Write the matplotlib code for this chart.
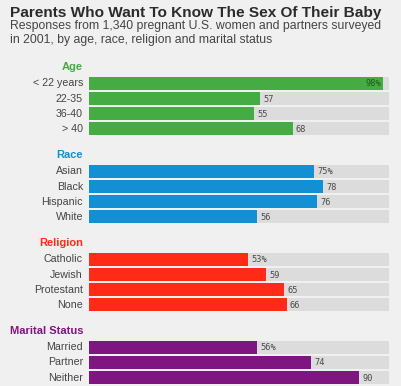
import matplotlib
matplotlib.use("Agg")
import matplotlib.pyplot as plt

plt.rcParams["font.family"] = ["Liberation Sans", "DejaVu Sans"]

groups = ["Age", "Race", "Religion", "Marital Status"]
group_colors = ["#44ac43", "#1390d4", "#ff2b17", "#7e1580"]
age_labels = ["< 22 years", "22-35", "36-40", "> 40"]
age_values = [98, 57, 55, 68]
race_labels = ["Asian", "Black", "Hispanic", "White"]
race_values = [75, 78, 76, 56]
religion_labels = ["Catholic", "Jewish", "Protestant", "None"]
religion_values = [53, 59, 65, 66]
marital_labels = ["Married", "Partner", "Neither"]
marital_values = [56, 74, 90]

all_labels = [age_labels, race_labels, religion_labels, marital_labels]
all_values = [age_values, race_values, religion_values, marital_values]

W, H = 401, 386
BG = "#f0f0f0"
fig = plt.figure(figsize=(W / 100, H / 100), dpi=100, facecolor=BG)

x0, x1 = 89, 389
ax = fig.add_axes([x0 / W, 0, (x1 - x0) / W, 1])
ax.set_facecolor("none")
ax.set_xlim(0, 100)
ax.set_ylim(H, 0)
ax.axis("off")

pitch = 15.15
bar_h = 13
y = 67.0
for gi, (g, col, labs, vals) in enumerate(zip(groups, group_colors, all_labels, all_values)):
    ax.text(-2, y, g, ha="right", va="center", fontsize=8, fontweight="bold",
            color=col, clip_on=False)
    y += 16.5
    for i, (lab, v) in enumerate(zip(labs, vals)):
        ax.barh(y, 100, height=bar_h, color="#dcdcdc", linewidth=0)
        ax.barh(y, v, height=bar_h, color=col, linewidth=0)
        ax.text(-2, y, lab, ha="right", va="center", fontsize=7.7, color="#444444",
                clip_on=False)
        txt = f"{v}%" if i == 0 else f"{v}"
        if v >= 90 and i == 0:
            ax.text(v - 0.7, y + 0.5, txt, ha="right", va="center", fontsize=6.2,
                    family="DejaVu Sans Mono", color="#1f5a1f")
        else:
            ax.text(v + 1.0, y + 0.5, txt, ha="left", va="center", fontsize=6.2,
                    family="DejaVu Sans Mono", color="#4a4a4a")
        y += pitch
    y += 26 - pitch

fig.text(10 / W, 1 - 12.5 / H, "Parents Who Want To Know The Sex Of Their Baby",
         ha="left", va="center", fontsize=11.1, fontweight="bold", color="#2b2b2b")
fig.text(10 / W, 1 - 25.5 / H, "Responses from 1,340 pregnant U.S. women and partners surveyed",
         ha="left", va="center", fontsize=8.8, color="#444444")
fig.text(10 / W, 1 - 40 / H, "in 2001, by age, race, religion and marital status",
         ha="left", va="center", fontsize=8.8, color="#444444")

fig.savefig("out.png", dpi=100, facecolor=BG)
